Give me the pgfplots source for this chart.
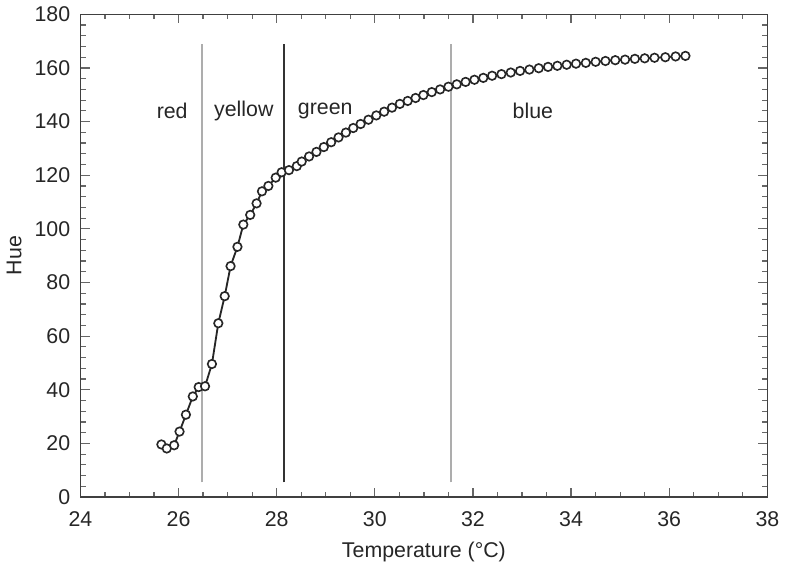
\documentclass[border=0pt]{standalone}
\usepackage{pgfplots}
\pgfplotsset{compat=1.18}
\usepackage{fontspec}
\setmainfont{Liberation Sans}
\begin{document}
\begin{tikzpicture}
\begin{axis}[
    width=338pt, height=237.5pt,
    scale only axis,
    xmin=24, xmax=38,
    ymin=0, ymax=180,
    xtick={24,26,...,38},
    ytick={0,20,...,180},
    minor x tick num=3,
    minor y tick num=4,
    tick align=inside,
    major tick length=4.5pt,
    minor tick length=2.5pt,
    axis line style={black!75, line width=0.8pt},
    tick style={black!60, line width=0.6pt},
    xlabel={Temperature (°C)},
    ylabel={Hue},
    /pgf/number format/assume math mode=true,
    tick label style={font=\fontsize{10.5}{12}\selectfont, text=black!85},
    xticklabel style={yshift=-3.5pt},
    yticklabel style={xshift=-1.5pt},
    label style={font=\fontsize{10.5}{12}\selectfont, text=black!85},
    xlabel style={yshift=-1pt},
    ylabel style={yshift=-0.5pt},
]

% colour boundaries
\draw[black!32, line width=1.1pt] (axis cs:26.48,5.5) -- (axis cs:26.48,169);
\draw[black!80, line width=0.6pt] (axis cs:28.15,5.5) -- (axis cs:28.15,169);
\draw[black!32, line width=1.1pt] (axis cs:31.55,5.5) -- (axis cs:31.55,169);

\node[font=\fontsize{10.5}{12}\selectfont, text=black!85] at (axis cs:25.87,144) {red};
\node[font=\fontsize{10.5}{12}\selectfont, text=black!85] at (axis cs:27.33,144) {yellow};
\node[font=\fontsize{10.5}{12}\selectfont, text=black!85] at (axis cs:28.99,144) {green};
\node[font=\fontsize{10.5}{12}\selectfont, text=black!85] at (axis cs:33.22,144) {blue};

\addplot[
    black!85, line width=0.9pt,
    mark=*, mark size=2.1pt,
    mark options={fill=white, draw=black!85, line width=0.8pt}
] coordinates {
    (25.65,19.6) (25.76,18.1) (25.91,19.3) (26.02,24.4) (26.15,30.7)
    (26.29,37.5) (26.41,41.0) (26.54,41.3) (26.68,49.6) (26.81,64.8)
    (26.94,74.9) (27.06,86.1) (27.20,93.3) (27.32,101.6) (27.46,105.2)
    (27.59,109.5) (27.70,114.0) (27.83,116.0) (27.98,119.1) (28.10,121.1)
    (28.25,121.9) (28.41,123.4) (28.51,125.1) (28.66,127.0) (28.81,128.7)
    (28.96,130.5) (29.11,132.3) (29.26,134.1) (29.41,135.9) (29.56,137.6)
    (29.71,139.1) (29.87,140.7) (30.03,142.3) (30.19,143.7) (30.35,145.2)
    (30.51,146.6) (30.67,147.7) (30.83,148.8) (30.99,149.9) (31.16,151.0)
    (31.33,152.0) (31.50,153.0) (31.67,153.9) (31.85,154.8) (32.03,155.6)
    (32.21,156.3) (32.39,157.1) (32.58,157.7) (32.77,158.3) (32.96,158.9)
    (33.15,159.4) (33.34,159.9) (33.53,160.4) (33.72,160.8) (33.91,161.2)
    (34.10,161.6) (34.30,161.9) (34.50,162.3) (34.70,162.6) (34.90,162.9)
    (35.10,163.1) (35.30,163.4) (35.50,163.6) (35.70,163.8) (35.92,164.0)
    (36.13,164.3) (36.33,164.5)
};
\end{axis}
\end{tikzpicture}
\end{document}
